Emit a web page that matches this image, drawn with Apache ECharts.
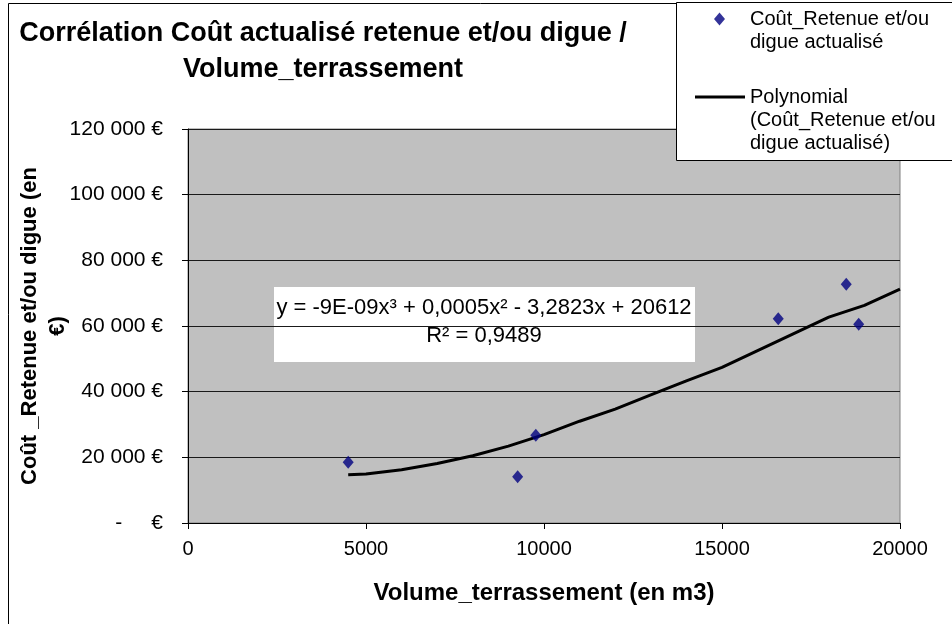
<!DOCTYPE html>
<html>
<head>
<meta charset="utf-8">
<script src="https://cdn.jsdelivr.net/npm/echarts@6/dist/echarts.min.js"></script>
<style>
  html, body { margin: 0; padding: 0; background: #fff; }
  #chart { width: 952px; height: 624px; }
</style>
</head>
<body>
<div id="chart"></div>
<script>
// points
const volumes = [4500, 9260, 9770, 16580, 18490, 18840];
const costs = [18500, 14100, 26700, 62200, 72700, 60500];

// polynomial trend line
const trendVolumes = [4500, 5000, 6000, 7000, 8000, 9000, 10000, 11000, 12000, 13000, 14000, 15000, 16000, 17000, 18000, 19000, 20000];
const trendCosts = [14700, 14900, 16200, 18100, 20500, 23400, 26900, 31000, 34700, 39000, 43300, 47400, 52500, 57600, 62700, 66300, 71200];

const xTicks = [0, 5000, 10000, 15000, 20000];
const seriesName = 'Coût_Retenue et/ou digue actualisé';
const trendName = 'Polynomial (Coût_Retenue et/ou digue actualisé)';
const equation = 'y = -9E-09x³ + 0,0005x² - 3,2823x + 20612\nR² = 0,9489';

const font = 'Liberation Sans, Arial, sans-serif';

function euro(v) {
    if (v === 0) return '-     €';
    return String(v).replace(/\B(?=(\d{3})+(?!\d))/g, ' ') + ' €';
}

const chart = echarts.init(document.getElementById('chart'));

chart.setOption({
    animation: false,
    textStyle: { fontFamily: font, color: '#000' },
    title: {
        text: 'Corrélation Coût actualisé retenue et/ou digue /\nVolume_terrassement',
        left: 318,
        top: 11,
        textAlign: 'center',
        textStyle: { fontSize: 27, fontWeight: 'bold', lineHeight: 36, color: '#000', fontFamily: font }
    },
    grid: {
        left: 188, top: 129, right: 52, bottom: 101,
        outerBoundsMode: 'none',
        show: true, backgroundColor: '#C0C0C0', borderColor: '#808080', borderWidth: 1
    },
    legend: [
        {
            data: [{ name: seriesName, icon: 'diamond' }],
            left: 714, top: -15.5, padding: 0,
            itemWidth: 11, itemHeight: 13,
            z: 20,
            formatter: () => '\nCoût_Retenue et/ou\ndigue actualisé',
            textStyle: { fontSize: 20, lineHeight: 23, color: '#000', fontFamily: font, padding: [0, 0, 0, 20] }
        },
        {
            data: [{ name: trendName, icon: 'rect', itemStyle: { color: '#000' } }],
            left: 695, top: 39.5, padding: 0,
            itemWidth: 50, itemHeight: 3,
            z: 20,
            formatter: () => '\n\nPolynomial\n(Coût_Retenue et/ou\ndigue actualisé)',
            textStyle: { fontSize: 20, lineHeight: 23, color: '#000', fontFamily: font }
        }
    ],
    xAxis: {
        type: 'value',
        min: 0, max: 20000, interval: 5000,
        name: 'Volume_terrassement (en m3)',
        nameLocation: 'middle',
        nameGap: 58,
        nameMoveOverlap: false,
        nameTextStyle: { fontSize: 24, fontWeight: 'bold', color: '#000', fontFamily: font },
        axisLine: { lineStyle: { color: '#000', width: 1 } },
        axisTick: { show: true, length: 6, lineStyle: { color: '#000' } },
        axisLabel: { fontSize: 20, color: '#000', margin: 16, formatter: v => xTicks.includes(v) ? String(v) : '' },
        splitLine: { show: false }
    },
    yAxis: {
        type: 'value',
        min: 0, max: 120000, interval: 20000,
        name: 'Coût _Retenue et/ou digue (en\n€)',
        nameLocation: 'middle',
        nameGap: 116,
        nameMoveOverlap: false,
        nameTextStyle: { fontSize: 22, fontWeight: 'bold', color: '#000', fontFamily: font, lineHeight: 28 },
        axisLine: { show: true, lineStyle: { color: '#000', width: 1 } },
        axisTick: { show: true, length: 6, lineStyle: { color: '#000' } },
        axisLabel: { fontSize: 21, color: '#000', margin: 25, formatter: euro },
        splitLine: { show: true, lineStyle: { color: '#1a1a1a', width: 1 } }
    },
    series: [
        {
            name: seriesName,
            type: 'scatter',
            symbol: 'diamond',
            symbolSize: [11, 13],
            itemStyle: { color: '#000080' },
            data: volumes.map((v, i) => [v, costs[i]]),
            z: 4
        },
        {
            name: trendName,
            type: 'line',
            symbol: 'none',
            showSymbol: false,
            lineStyle: { color: '#000', width: 3 },
            itemStyle: { color: '#000' },
            data: trendVolumes.map((v, i) => [v, trendCosts[i]]),
            z: 3
        }
    ],
    graphic: [
        {
            type: 'rect',
            shape: { x: 8.5, y: 3.5, width: 1200, height: 1000 },
            style: { fill: 'none', stroke: '#000', lineWidth: 1 },
            z: 1, silent: true
        },
        {
            type: 'rect',
            shape: { x: 676.5, y: 2.5, width: 400, height: 158 },
            style: { fill: '#fff', stroke: '#000', lineWidth: 1 },
            z: 15, silent: true
        },
        {
            type: 'group',
            z: 15,
            children: [
                {
                    type: 'rect',
                    shape: { x: 274, y: 287, width: 421, height: 75 },
                    style: { fill: '#fff' }
                },
                {
                    type: 'text',
                    style: {
                        text: equation, x: 484, y: 322,
                        align: 'center', verticalAlign: 'middle',
                        fontSize: 22, lineHeight: 28, fill: '#000', fontFamily: font
                    }
                }
            ]
        }
    ]
});
</script>
</body>
</html>
